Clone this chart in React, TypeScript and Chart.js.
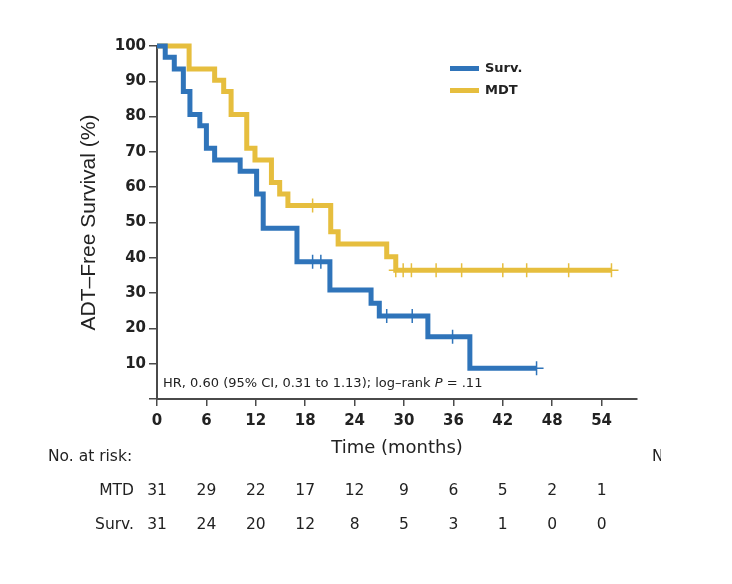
import React, { useEffect, useRef } from "react";
import { Chart, registerables } from "chart.js";

Chart.register(...registerables);

// Kaplan–Meier step points (time in months, survival %)
const survTimes = [0, 1.0, 2.1, 3.2, 4.0, 5.2, 6.0, 7.0, 10.1, 12.1, 12.9, 17.0, 21.0, 26.0, 27.0, 32.9, 38.0, 46.1];
const survValues = [100, 96.8, 93.5, 87.1, 80.6, 77.4, 71.0, 67.7, 64.5, 58.1, 48.4, 38.9, 30.9, 27.1, 23.5, 17.6, 8.7, 8.7];
const mdtTimes = [0, 3.9, 7.0, 8.1, 9.0, 10.9, 11.9, 13.9, 14.9, 15.9, 21.1, 22.0, 27.9, 29.0, 55.2];
const mdtValues = [100, 93.5, 90.3, 87.1, 80.6, 71.0, 67.7, 61.3, 58.1, 54.8, 47.4, 43.9, 40.3, 36.5, 36.5];

// Censoring marks
const survCensorTimes = [18.9, 19.9, 27.9, 31.0, 35.9, 46.1];
const survCensorValues = [38.9, 38.9, 23.5, 23.5, 17.6, 8.7];
const mdtCensorTimes = [18.9, 29.0, 29.9, 30.9, 33.9, 37.0, 42.0, 44.9, 50.0, 55.2];
const mdtCensorValues = [54.8, 36.5, 36.5, 36.5, 36.5, 36.5, 36.5, 36.5, 36.5, 36.5];

// Number at risk table
const riskTimes = [0, 6, 12, 18, 24, 30, 36, 42, 48, 54];
const riskMDT = [31, 29, 22, 17, 12, 9, 6, 5, 2, 1];
const riskSurv = [31, 24, 20, 12, 8, 5, 3, 1, 0, 0];

const seriesLabels = ["Surv.", "MDT"];
const riskRowLabels = ["MTD", "Surv."];

const BLUE = "#2F74BA";
const YELLOW = "#E6BE3E";
const AXIS = "#4a4a4a";
const TEXT = "#222222";
const FONT = "'DejaVu Sans'";

function pts(xs: number[], ys: number[]) {
  return xs.map((x, i) => ({ x, y: ys[i] }));
}

const overlayPlugin = {
  id: "overlay",
  afterDraw(chart: any) {
    const ctx = chart.ctx as CanvasRenderingContext2D;
    const xs = chart.scales.x;
    const area = chart.chartArea;
    ctx.save();
    ctx.fillStyle = TEXT;
    ctx.textBaseline = "middle";

    // annotation
    let ax = area.left + 6;
    const ay = area.bottom - 15;
    ctx.textAlign = "left";
    ctx.font = `13px ${FONT}`;
    const pre = "HR, 0.60 (95% CI, 0.31 to 1.13); log\u2013rank ";
    ctx.fillText(pre, ax, ay);
    ax += ctx.measureText(pre).width;
    ctx.font = `italic 13px ${FONT}`;
    ctx.fillText("P", ax, ay);
    ax += ctx.measureText("P").width;
    ctx.font = `13px ${FONT}`;
    ctx.fillText(" = .11", ax, ay);

    // legend
    const colors = [BLUE, YELLOW];
    const legY = [68.5, 90.5];
    seriesLabels.forEach((lab, i) => {
      ctx.strokeStyle = colors[i];
      ctx.lineWidth = 5;
      ctx.beginPath();
      ctx.moveTo(450, legY[i]);
      ctx.lineTo(479, legY[i]);
      ctx.stroke();
      ctx.fillStyle = TEXT;
      ctx.font = `bold 13px ${FONT}`;
      ctx.textAlign = "left";
      ctx.fillText(lab, 485, legY[i]);
    });

    // risk table
    ctx.font = `15.5px ${FONT}`;
    ctx.textAlign = "left";
    ctx.fillText("No. at risk:", 48, 457);
    const rows = [riskMDT, riskSurv];
    const rowY = [491, 525];
    rows.forEach((row, r) => {
      ctx.textAlign = "right";
      ctx.fillText(riskRowLabels[r], 134, rowY[r]);
      ctx.textAlign = "center";
      row.forEach((v, i) => {
        ctx.fillText(String(v), xs.getPixelForValue(riskTimes[i]), rowY[r]);
      });
    });

    // clipped fragment at right edge
    ctx.save();
    ctx.beginPath();
    ctx.rect(640, 440, 21, 30);
    ctx.clip();
    ctx.textAlign = "left";
    ctx.font = `15.5px ${FONT}`;
    ctx.fillText("No. at risk:", 652, 457);
    ctx.restore();

    ctx.restore();
  },
};

export default function App() {
  const ref = useRef<HTMLCanvasElement | null>(null);

  useEffect(() => {
    if (!ref.current) return;
    const lineDs = (label: string, data: any, color: string) => ({
      type: "line" as const,
      label,
      data,
      borderColor: color,
      backgroundColor: color,
      borderWidth: 5,
      stepped: true,
      pointRadius: 0,
      fill: false,
      clip: false,
    });
    const censorDs = (label: string, data: any, color: string) => ({
      type: "line" as const,
      label,
      data,
      showLine: false,
      borderColor: color,
      backgroundColor: color,
      pointStyle: "cross",
      pointRadius: 7,
      pointBorderWidth: 1.5,
      clip: false,
    });

    const chart = new Chart(ref.current, {
      type: "line",
      data: {
        datasets: [
          censorDs("Surv. censored", pts(survCensorTimes, survCensorValues), BLUE),
          censorDs("MDT censored", pts(mdtCensorTimes, mdtCensorValues), YELLOW),
          lineDs(seriesLabels[0], pts(survTimes, survValues), BLUE),
          lineDs(seriesLabels[1], pts(mdtTimes, mdtValues), YELLOW),
        ] as any,
      },
      options: {
        responsive: false,
        animation: false,
        devicePixelRatio: 1,
        layout: { padding: { left: 77, top: 46, right: 95, bottom: 125 } },
        plugins: { legend: { display: false }, tooltip: { enabled: false } },
        scales: {
          x: {
            type: "linear",
            min: 0,
            max: 58.3,
            ticks: {
              stepSize: 6,
              includeBounds: false,
              color: TEXT,
              padding: 6,
              maxRotation: 0,
              font: { family: "DejaVu Sans", size: 15, weight: "bold" },
            },
            grid: { drawOnChartArea: false, drawTicks: true, tickLength: 7, color: AXIS, lineWidth: 1.5 },
            border: { display: true, color: AXIS, width: 2 },
            title: {
              display: true,
              text: "Time (months)",
              color: TEXT,
              padding: 0,
              font: { family: "DejaVu Sans", size: 18 },
            },
            afterFit: (s: any) => {
              s.height = 60;
            },
          },
          y: {
            type: "linear",
            min: 0,
            max: 100,
            ticks: {
              stepSize: 10,
              color: TEXT,
              padding: 3,
              font: { family: "DejaVu Sans", size: 15, weight: "bold" },
              callback: (v: any) => (v === 0 ? "" : String(v)),
            },
            grid: { drawOnChartArea: false, drawTicks: true, tickLength: 8, color: AXIS, lineWidth: 1.5 },
            border: { display: true, color: AXIS, width: 2 },
            title: {
              display: true,
              text: "ADT\u2013Free Survival (%)",
              color: TEXT,
              padding: 0,
              font: { family: "Liberation Sans", size: 21 },
            },
            afterFit: (s: any) => {
              s.width = 80;
            },
          },
        },
      } as any,
      plugins: [overlayPlugin],
    });
    return () => chart.destroy();
  }, []);

  return (
    <div style={{ position: "absolute", left: 0, top: 0, width: 732, height: 584, background: "#fff" }}>
      <canvas ref={ref} width={732} height={584} style={{ display: "block", width: 732, height: 584 }} />
    </div>
  );
}
